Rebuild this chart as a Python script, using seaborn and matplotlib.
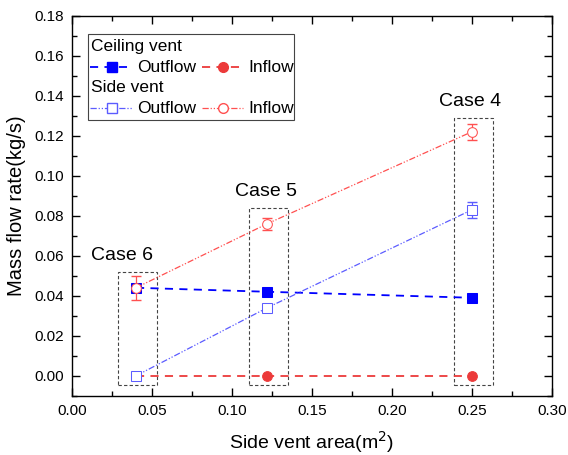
#import libraries
import pandas as pd
import seaborn as sns
import matplotlib.pyplot as plt
import numpy as np
from matplotlib.patches import Rectangle
from matplotlib.ticker import MultipleLocator

#data
area = [0.04, 0.122, 0.25]
cases = ['Case 6', 'Case 5', 'Case 4']
ceil_out = [0.044, 0.042, 0.039]
ceil_in = [0.0, 0.0, 0.0]
side_out = [0.0, 0.034, 0.083]
side_in = [0.044, 0.076, 0.122]
side_out_err = [0.0, 0.0, 0.004]
side_in_err = [0.006, 0.003, 0.004]
box_top = [0.052, 0.084, 0.129]

sns.set_theme(style='ticks')
plt.rcParams['font.family'] = ['Liberation Sans', 'DejaVu Sans']
plt.rcParams['text.color'] = 'black'
plt.rcParams['axes.labelcolor'] = 'black'
plt.rcParams['xtick.color'] = 'black'
plt.rcParams['ytick.color'] = 'black'

fig = plt.figure(figsize=(5.68, 4.55), dpi=100)
ax = fig.add_axes([0.1268, 0.1297, 0.845, 0.8358])

blue = '#0000ff'
red = '#ec3a3a'
sblue = '#5c5cff'
sred = '#ff5050'
dashed = (0, (4.5, 3.5))
dashdotdot = (0, (5, 1.5, 1, 1.5, 1, 1.5))

#ceiling vent
sns.lineplot(x=area, y=ceil_out, ax=ax, color=blue, marker='s', markersize=6.5,
             linestyle=dashed, lw=1.3, markeredgecolor=blue, zorder=3)
sns.lineplot(x=area, y=ceil_in, ax=ax, color=red, marker='o', markersize=7,
             linestyle=dashed, lw=1.3, markeredgecolor=red, zorder=3)

#side vent (drawn on top)
ax.errorbar(area, side_out, yerr=side_out_err, fmt='none', ecolor=sblue, capsize=3.5, lw=0.9, zorder=4)
ax.errorbar(area, side_in, yerr=side_in_err, fmt='none', ecolor=sred, capsize=3.5, lw=0.9, zorder=4)
sns.lineplot(x=area, y=side_out, ax=ax, color=sblue, marker='s', markersize=6.5,
             linestyle=dashdotdot, lw=0.9, markerfacecolor='white', markeredgecolor=sblue, zorder=4)
sns.lineplot(x=area, y=side_in, ax=ax, color=sred, marker='o', markersize=7,
             linestyle=dashdotdot, lw=0.9, markerfacecolor='white', markeredgecolor=sred, zorder=4)

#case boxes and labels
box_w = 0.0242
label_dx = [-0.009, -0.001, -0.001]
for x, top, name, dx in zip(area, box_top, cases, label_dx):
    ax.add_patch(Rectangle((x - box_w / 2 + 0.0008, -0.0048), box_w, top + 0.0048, fill=False,
                           ls=(0, (3, 2)), lw=0.8, ec='#444444', zorder=2))
    ax.text(x + dx, top + 0.004, name, fontsize=14, ha='center', va='bottom')

ax.set_xlim(0, 0.30)
ax.set_ylim(-0.0101, 0.18)
xt = np.arange(0, 0.301, 0.05)
yt = np.arange(0, 0.181, 0.02)
ax.set_xticks(xt)
ax.set_yticks(yt)
ax.xaxis.set_minor_locator(MultipleLocator(0.025))
ax.yaxis.set_minor_locator(MultipleLocator(0.01))
ax.set_xticklabels([f'{v:.2f}' for v in xt])
ax.set_yticklabels([f'{v:.2f}' for v in yt])
ax.tick_params(which='both', direction='in', top=True, right=True, color='black',
               labelcolor='black', width=1)
ax.tick_params(which='major', length=6, labelsize=11, pad=6)
ax.tick_params(which='minor', length=3.5)
for s in ax.spines.values():
    s.set_color('black')
    s.set_linewidth(1)
ax.set_xlabel('Side vent area(m$^2$)', fontsize=14, labelpad=8)
ax.set_ylabel('Mass flow rate(kg/s)', fontsize=14.5, labelpad=6)

#legend drawn by hand (two headed groups)
tr = ax.transAxes
ax.add_patch(Rectangle((0.033, 0.726), 0.4295, 0.226, transform=tr, fill=False,
                       lw=0.8, ec='#444444', zorder=5))
rows = [
    ('Ceiling vent', 0.920, 0.865, [(blue, dashed, 1.3, 's', 6.5, blue), (red, dashed, 1.3, 'o', 7, red)]),
    ('Side vent', 0.8125, 0.757, [(sblue, dashdotdot, 0.9, 's', 6.5, 'white'), (sred, dashdotdot, 0.9, 'o', 7, 'white')]),
]
for title, ty, ry, hs in rows:
    ax.text(0.0396, ty, title, transform=tr, fontsize=12.5, va='center', ha='left')
    for (c, ls, lw, m, ms, fc), x0, x1, xm, xl, lab in zip(
            hs, [0.0375, 0.271], [0.127, 0.356], [0.083, 0.315], [0.135, 0.368], ['Outflow', 'Inflow']):
        ax.plot([x0, x1], [ry, ry], transform=tr, color=c, ls=ls, lw=lw)
        ax.plot([xm], [ry], transform=tr, color=c, marker=m, ms=ms, mfc=fc, mec=c)
        ax.text(xl, ry, lab, transform=tr, fontsize=12.5, va='center', ha='left')

fig.savefig('out.png', dpi=100)
